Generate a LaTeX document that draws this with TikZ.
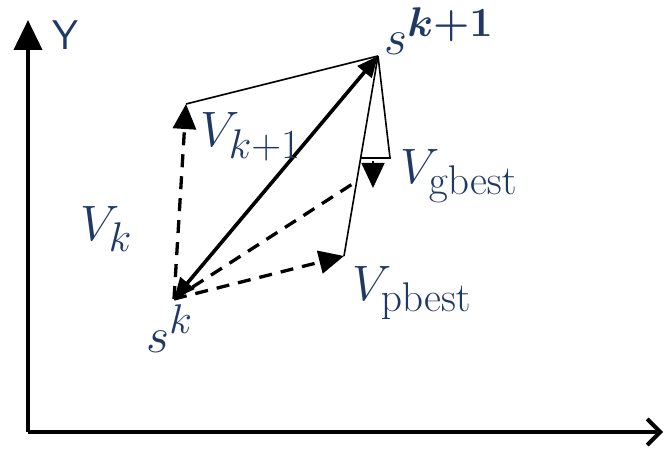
\documentclass[tikz,border=0pt]{standalone}
\usepackage{amsmath}
\usepackage{tikz}
\usepackage{xcolor}
\usetikzlibrary{arrows.meta,calc}
\definecolor{LabelNavy}{HTML}{1F3864}
\definecolor{LineBlack}{HTML}{000000}
\tikzset{
    % Axis lines
    axisline/.style={
        line width=4pt,
        draw=LineBlack
    },
    % Dashed velocity parts
    dashvec/.style={
        line width=3.3pt,
        dash pattern=on 13pt off 9pt,
        draw=LineBlack
    },
    % Filled arrow head
    vechead/.style={
        -{Triangle[length=25pt,width=23pt]}
    },
    % Thin construction lines
    thinline/.style={
        line width=1.6pt,
        draw=LineBlack
    },
    % Resulting move
    movearrow/.style={
        {Triangle[length=21pt,width=18pt]}-{Triangle[length=21pt,width=18pt]},
        line width=3.6pt,
        draw=LineBlack
    },
    % Math labels
    mathlabel/.style={
        text=LabelNavy,
        inner sep=0pt,
        font=\Huge
    }
}
\begin{document}
\begin{tikzpicture}[x=0.5pt, y=-0.5pt, scale=2, transform shape]
        \useasboundingbox (0,0) rectangle (666,457);
        % Points
        \coordinate (o) at (28,432);
        \coordinate (ytip) at (28,20);
        \coordinate (xtip) at (663,432);
        \coordinate (sk) at (174,299);
        \coordinate (skk) at (378,56);
        \coordinate (vk) at (186,104);
        \coordinate (pb) at (344,256);
        \coordinate (gb) at (354,183);
        \coordinate (gbr) at (390,158);
        \coordinate (gbl) at (360,158);
        \coordinate (gbtip) at (373,188);

        % Axes
        \draw[axisline, -{Triangle[length=30pt,width=28pt]}] (o) -- (ytip);
        \draw[axisline, -{Straight Barb[length=13pt,width=26pt]}] (o) -- (xtip);

        % Velocity parts
        \draw[dashvec, vechead] (sk) -- (vk);
        \draw[dashvec, vechead] (sk) -- (pb);
        \draw[dashvec] (sk) -- (gb);
        \draw[vechead, line width=1.6pt] ($(gbtip)+(0,-27)$) -- (gbtip);

        % Construction lines
        \draw[thinline] (vk) -- (skk);
        \draw[thinline] (skk) -- (pb);
        \draw[thinline] (skk) -- (gbr) -- (gbl);

        % Move
        \draw[movearrow] (sk) -- (skk);

        % Labels
        \node[text=LabelNavy, inner sep=0pt, anchor=base west, font=\sffamily\huge] (ylabel) at (52,50) {Y};
        \node[mathlabel, anchor=base west] (sklabel) at (146,352) {$s^{k}$};
        \node[mathlabel, anchor=base west] (skklabel) at (384,55) {$s^{\boldsymbol{k+1}}$};
        \node[mathlabel, anchor=base west] (vkklabel) at (200,147) {$V_{k+1}$};
        \node[mathlabel, anchor=base west] (vklabel) at (80,240) {$V_{k}$};
        \node[mathlabel, anchor=base west] (gblabel) at (400,183) {$V_{\mathrm{gbest}}$};
        \node[mathlabel, anchor=base west] (pblabel) at (352,300) {$V_{\mathrm{pbest}}$};
    \end{tikzpicture}
\end{document}
